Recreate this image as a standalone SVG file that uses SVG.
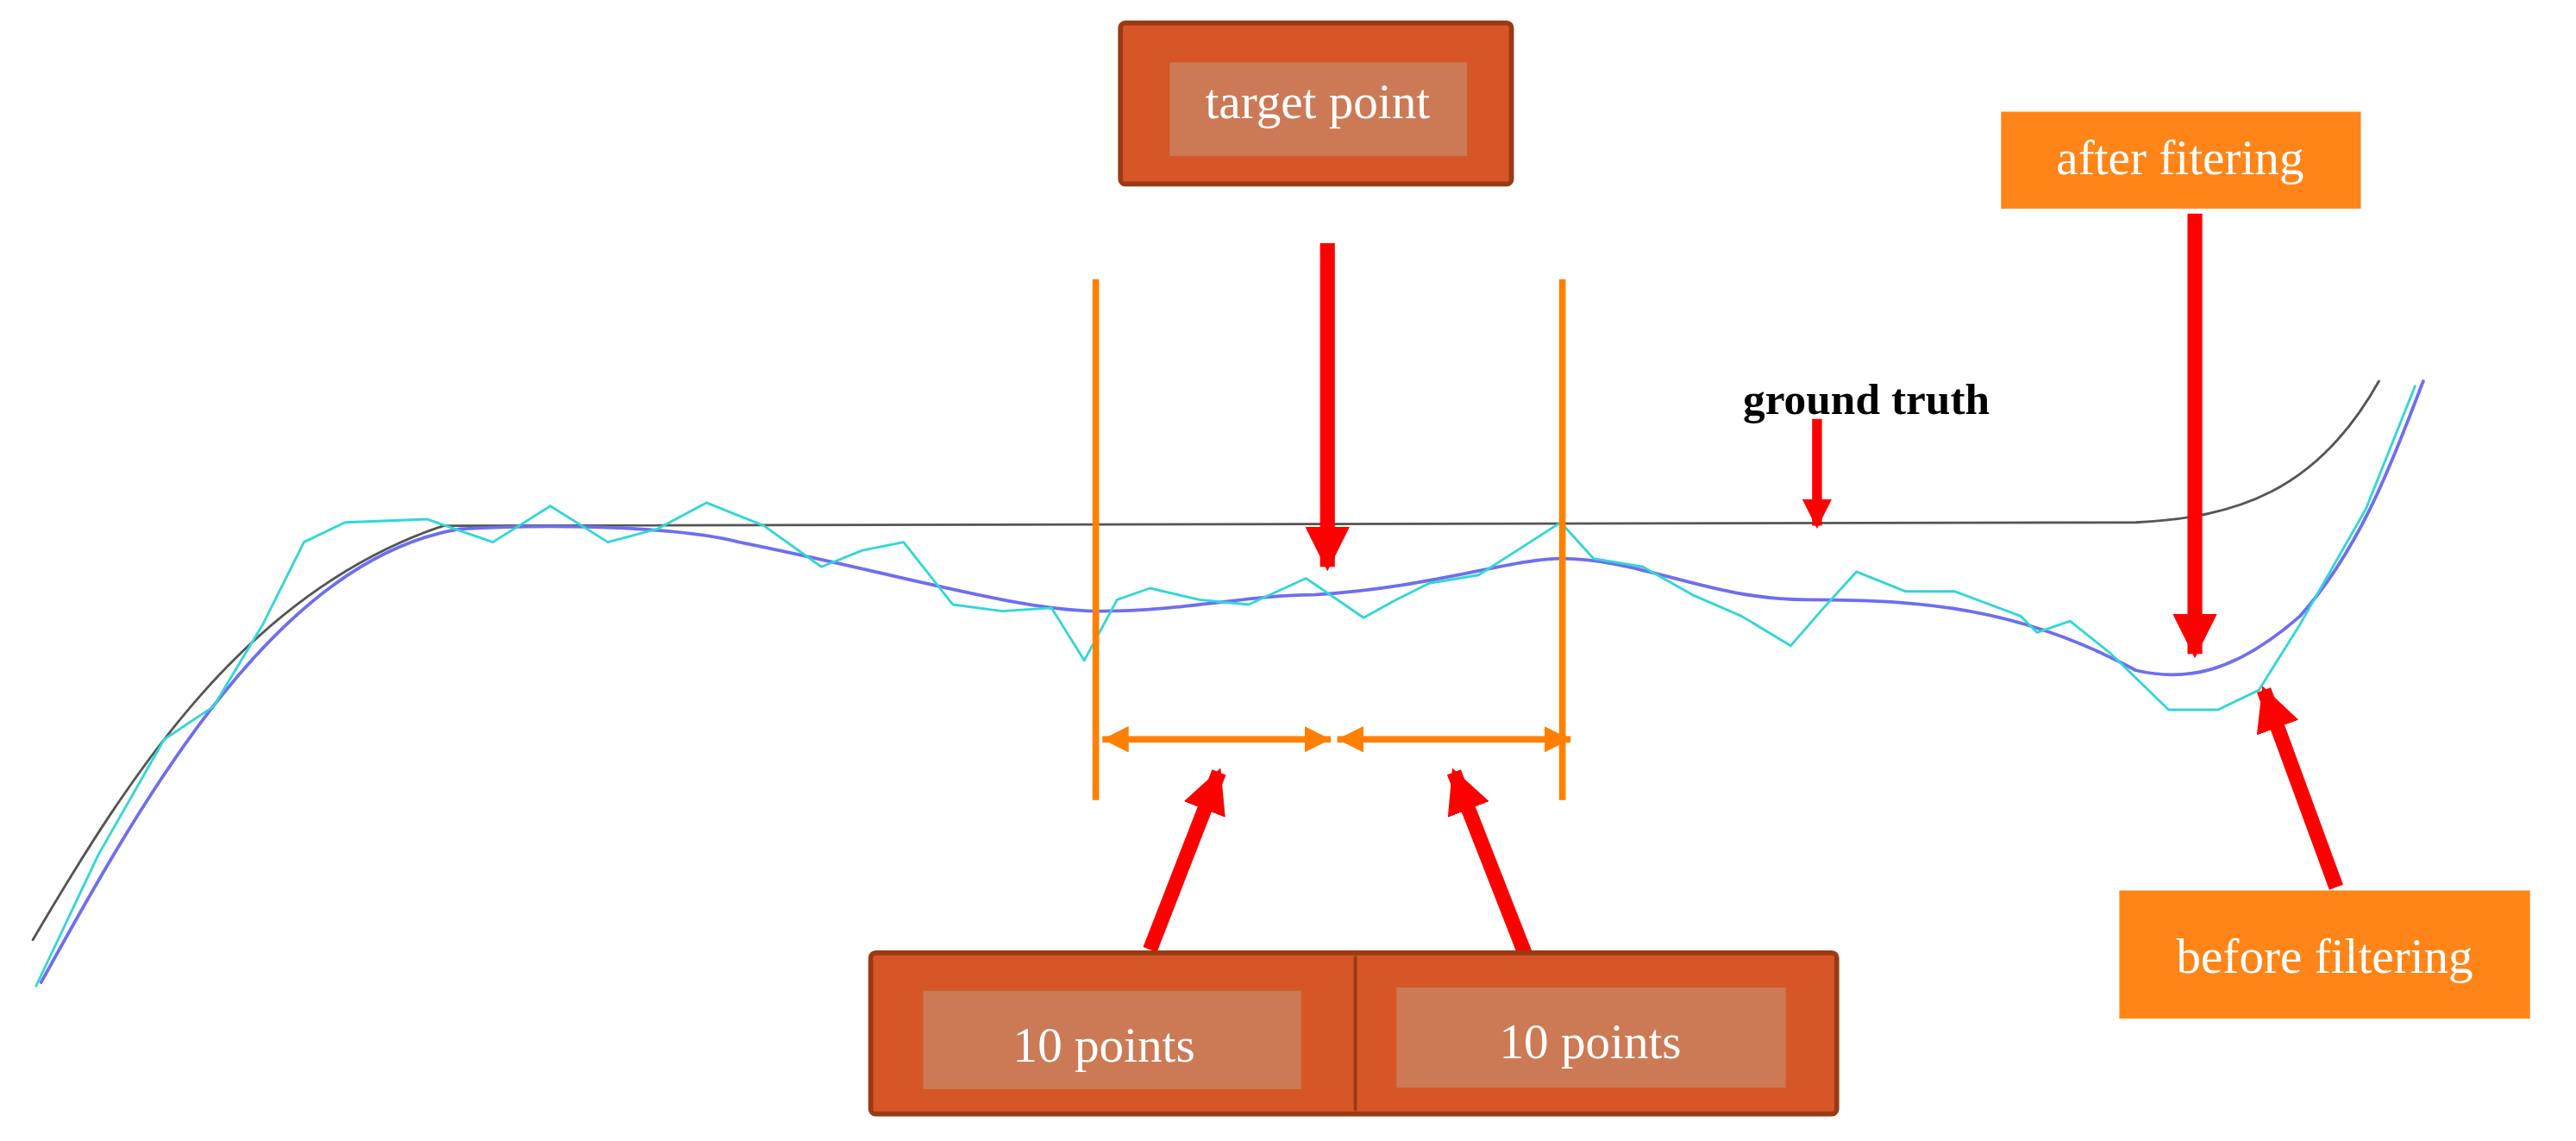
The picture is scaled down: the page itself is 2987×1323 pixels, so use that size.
<svg xmlns="http://www.w3.org/2000/svg" width="2987" height="1323" viewBox="0 0 2987 1323">
<style>
.lbl{font-family:"Liberation Serif",serif;fill:#fff;font-size:30px;text-anchor:middle}
.dark{fill:#D65627;stroke:#9A3A14;stroke-width:3}
.inner{fill:#CC7A55}
.ob{fill:#FF8519}
.red{stroke:#FF0000;fill:none}
.org{stroke:#FF8000;fill:none}
</style>
<defs>
<marker id="rh" viewBox="0 0 10 10" refX="9" refY="5" markerWidth="3" markerHeight="3" orient="auto" markerUnits="strokeWidth"><path d="M0,0L10,5L0,10z" fill="#FF0000"/></marker>
<marker id="oh" viewBox="0 0 10 10" refX="10" refY="5" markerWidth="4" markerHeight="4" orient="auto-start-reverse" markerUnits="strokeWidth"><path d="M0,0L10,5L0,10z" fill="#FF8000"/></marker>
</defs>
<rect width="2987" height="1323" fill="#fff"/>
<g transform="scale(1.905)">
<g id="curves" fill="none" stroke-linejoin="round" stroke-linecap="round">
<path d="M20,572 C80,470 150,360 270,320 L1300,318 C1360,315 1410,300 1448,232" stroke="#555" stroke-width="1.5"/>
<path d="M25,598 C90,480 170,340 280,322 C350,318 420,322 450,330 C550,350 620,372 670,372 C720,372 760,362 800,362 C870,358 920,340 950,340 C1000,340 1040,365 1100,365 C1170,365 1230,370 1300,408 C1330,415 1360,410 1400,375 C1440,330 1460,270 1475,232" stroke="#6E6EF0" stroke-width="2"/>
<polyline points="22,600 60,520 100,450 130,430 160,380 185,330 210,318 260,316 300,330 335,308 370,330 400,322 430,306 465,320 500,345 525,335 550,330 580,368 610,372 640,370 660,402 680,365 700,358 730,365 760,368 795,352 830,376 850,365 870,355 900,350 950,318 970,340 1000,345 1030,362 1060,375 1090,393 1110,370 1130,348 1160,360 1190,360 1230,375 1240,385 1260,378 1285,398 1320,432 1350,432 1375,420 1400,380 1440,310 1470,235" stroke="#33D6D6" stroke-width="1.5"/>
</g>
<g id="connectors">
<line class="org" x1="667" y1="170" x2="667" y2="487" stroke-width="4"/>
<line class="org" x1="951" y1="170" x2="951" y2="487" stroke-width="4"/>
<line class="org" x1="671" y1="450" x2="810" y2="450" stroke-width="4" marker-start="url(#oh)" marker-end="url(#oh)"/>
<line class="org" x1="814" y1="450" x2="956" y2="450" stroke-width="4" marker-start="url(#oh)" marker-end="url(#oh)"/>
<line class="red" x1="808" y1="148" x2="808" y2="345" stroke-width="9" marker-end="url(#rh)"/>
<line class="red" x1="700" y1="578" x2="742" y2="470" stroke-width="9" marker-end="url(#rh)"/>
<line class="red" x1="930" y1="585" x2="885" y2="470" stroke-width="9" marker-end="url(#rh)"/>
<line class="red" x1="1336" y1="130" x2="1336" y2="398" stroke-width="9" marker-end="url(#rh)"/>
<line class="red" x1="1422" y1="540" x2="1378" y2="420" stroke-width="9" marker-end="url(#rh)"/>
<line class="red" x1="1106" y1="255" x2="1106" y2="320" stroke-width="6" marker-end="url(#rh)"/>
</g>
<g id="target">
<rect class="dark" x="682" y="14" width="238" height="98" rx="3"/>
<rect class="inner" x="712" y="38" width="181" height="57"/>
<text class="lbl" x="802" y="72">target point</text>
</g>
<g id="points">
<rect class="dark" x="530" y="580" width="588" height="98" rx="3"/>
<line x1="825" y1="582" x2="825" y2="676" stroke="#9A3A14" stroke-width="2"/>
<rect class="inner" x="562" y="603" width="230" height="60"/>
<rect class="inner" x="850" y="601" width="237" height="61"/>
<text class="lbl" x="672" y="646">10 points</text>
<text class="lbl" x="968" y="644">10 points</text>
</g>
<g id="after">
<rect class="ob" x="1218" y="68" width="219" height="59"/>
<text class="lbl" x="1327" y="106">after fitering</text>
</g>
<g id="before">
<rect class="ob" x="1290" y="542" width="250" height="78"/>
<text class="lbl" x="1415" y="592">before filtering</text>
</g>
<g id="gt">
<text x="1136" y="252" font-family="Liberation Serif,serif" font-weight="bold" font-size="27" text-anchor="middle">ground truth</text>
</g>
</g>
</svg>
